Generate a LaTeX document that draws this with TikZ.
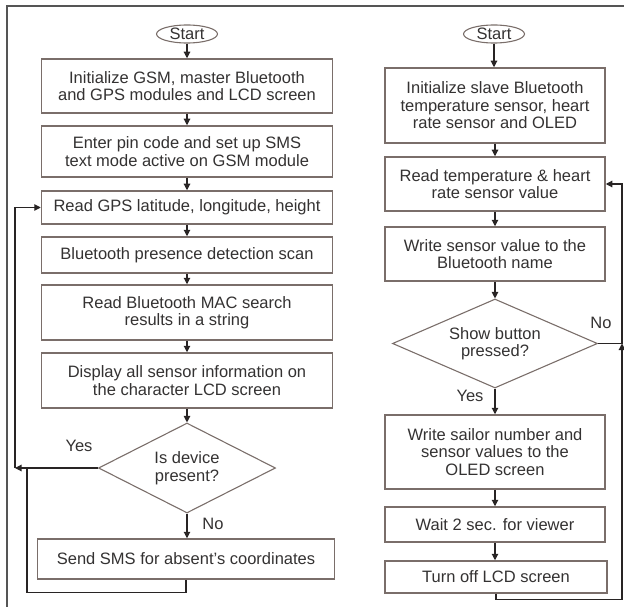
\documentclass[tikz,border=0pt]{standalone}
\usepackage{fontspec}
\setmainfont{Liberation Sans}
\usetikzlibrary{shapes.geometric,arrows.meta}
\definecolor{boxline}{RGB}{122,110,106}
\definecolor{wire}{RGB}{40,36,36}
\definecolor{ink}{RGB}{52,50,50}
\definecolor{framecol}{RGB}{85,85,85}
\newcommand{\flowfont}{\fontsize{16.5}{17.5}\selectfont}
\tikzset{
  proc/.style={draw=boxline, line width=1.5pt, fill=white, align=center,
    inner sep=0pt, text=ink, font=\flowfont},
  decide/.style={diamond, aspect=2, draw=boxline, line width=1.1pt, align=center,
    inner sep=0pt, text=ink, font=\flowfont},
  terminal/.style={ellipse, draw=boxline, line width=1.1pt, inner sep=0pt,
    minimum width=61pt, minimum height=18pt, text=ink, font=\flowfont},
  flow/.style={draw=wire, line width=1.1pt, -{Triangle[length=6.5pt,width=6.5pt]}},
  wireonly/.style={draw=wire, line width=1.1pt},
  lbl/.style={text=ink, font=\flowfont, inner sep=0pt}
}
\begin{document}
\begin{tikzpicture}[x=1pt, y=-1pt]
\useasboundingbox (0,0) rectangle (624,607);
% outer frame (top and left edges)
\draw[framecol, line width=1.2pt] (7,607) -- (7,6) -- (624,6);

% ---- master unit (left) ----
\node[terminal] (ls) at (187,34) {Start};
\node[proc, minimum width=291pt, minimum height=54pt] (l1) at (187,86)
  {Initialize GSM, master Bluetooth\\and GPS modules and LCD screen};
\node[proc, minimum width=291pt, minimum height=51pt] (l2) at (187,151.5)
  {Enter pin code and set up SMS\\text mode active on GSM module};
\node[proc, minimum width=291pt, minimum height=33pt] (l3) at (187,207.5)
  {Read GPS latitude, longitude, height};
\node[proc, minimum width=291pt, minimum height=36pt] (l4) at (187,255)
  {Bluetooth presence detection scan};
\node[proc, minimum width=291pt, minimum height=55pt] (l5) at (187,312.5)
  {Read Bluetooth MAC search\\results in a string};
\node[proc, minimum width=291pt, minimum height=55pt] (l6) at (187,380.5)
  {Display all sensor information on\\the character LCD screen};
\node[decide, minimum width=177pt, minimum height=90pt] (ld) at (187,468)
  {Is device\\present?};
\node[proc, minimum width=297pt, minimum height=40pt] (l7) at (186,559)
  {Send SMS for absent's coordinates};

\node[lbl] (lyes) at (79,446) {Yes};
\node[lbl] (lno) at (213,524) {No};

\draw[flow] (ls.south) -- (ls.south |- l1.north);
\draw[flow] (l1.south) -- (l1.south |- l2.north);
\draw[flow] (l2.south) -- (l2.south |- l3.north);
\draw[flow] (l3.south) -- (l3.south |- l4.north);
\draw[flow] (l4.south) -- (l4.south |- l5.north);
\draw[flow] (l5.south) -- (l5.south |- l6.north);
\draw[flow] (l6.south) -- (l6.south |- ld.north);
\draw[flow] (ld.south) -- (ld.south |- l7.north);

\coordinate (yesturn) at (15,468);
\coordinate (smsjoin) at (27,468);
\draw[flow] (ld.west) -- (yesturn);
\draw[flow] (yesturn) |- (l3.west);
\draw[wireonly] (l7.south) -- ++(0,13) -| (smsjoin);

% ---- sailor unit (right) ----
\node[terminal] (rs) at (494,34) {Start};
\node[proc, minimum width=220pt, minimum height=75pt] (r1) at (495,105.5)
  {Initialize slave Bluetooth\\temperature sensor, heart\\rate sensor and OLED};
\node[proc, minimum width=220pt, minimum height=54pt] (r2) at (495,184)
  {Read temperature \& heart\\rate sensor value};
\node[proc, minimum width=220pt, minimum height=54pt] (r3) at (495,254)
  {Write sensor value to the\\Bluetooth name};
\node[decide, minimum width=205pt, minimum height=89pt] (rd) at (495,343.5)
  {Show button\\pressed?};
\node[proc, minimum width=220pt, minimum height=74pt] (r4) at (495,452)
  {Write sailor number and\\sensor values to the\\OLED screen};
\node[proc, minimum width=220pt, minimum height=35pt] (r5) at (495,524.5)
  {Wait 2 sec. for viewer};
\node[proc, minimum width=222pt, minimum height=32pt] (r6) at (496,577)
  {Turn off LCD screen};

\node[lbl] (rno) at (601,323) {No};
\node[lbl] (ryes) at (470,396) {Yes};

\draw[flow] (rs.south) -- (rs.south |- r1.north);
\draw[flow] (r1.south) -- (r1.south |- r2.north);
\draw[flow] (r2.south) -- (r2.south |- r3.north);
\draw[flow] (r3.south) -- (r3.south |- rd.north);
\draw[flow] (rd.south) -- (rd.south |- r4.north);
\draw[flow] (r4.south) -- (r4.south |- r5.north);
\draw[flow] (r5.south) -- (r5.south |- r6.north);

\coordinate (noturn) at (622,343.5);
\draw[wireonly] (rd.east) -- (noturn);
\draw[flow] (r6.south) -- ++(0,6) -| (noturn);
\draw[flow] (noturn) |- (r2.east);
\end{tikzpicture}
\end{document}
